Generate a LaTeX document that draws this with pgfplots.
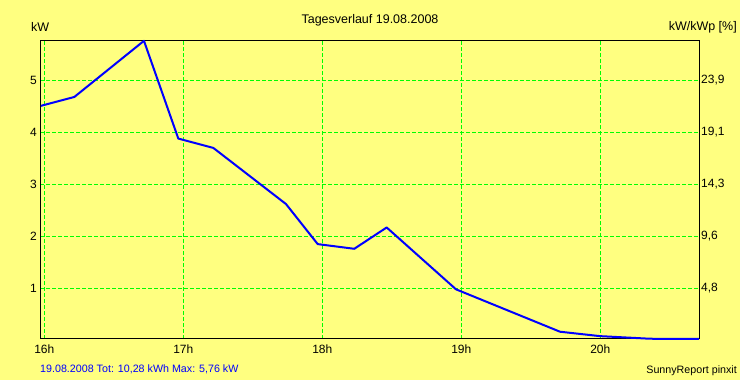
\documentclass[border=0pt]{standalone}
\usepackage{fontspec}
\setmainfont{Liberation Sans}
\usepackage{pgfplots}
\pgfplotsset{compat=1.18}
\definecolor{bg}{RGB}{255,255,128}
\definecolor{gridgreen}{RGB}{0,255,0}
\definecolor{lineblue}{RGB}{0,0,255}
\begin{document}
\begin{tikzpicture}[x=1pt,y=1pt]
\fill[bg] (0,0) rectangle (740,380);
\useasboundingbox (0,0) rectangle (740,380);
\begin{axis}[
  at={(40.3pt,41pt)}, anchor=south west, scale only axis,
  width=659.4pt, height=298.7pt,
  xmin=15.9712, xmax=20.715, ymin=0.025, ymax=5.77,
  xtick={16,17,18,19,20}, xticklabels={16h,17h,18h,19h,20h},
  ytick={1,2,3,4,5}, yticklabels={1,2,3,4,5},
  grid=major,
  major grid style={gridgreen, line width=1pt, dash pattern=on 4pt off 2pt},
  major tick length=0pt,
  axis line style={black, line width=1pt},
  tick label style={font=\fontsize{12}{14}\selectfont},
  xticklabel style={yshift=-2pt},
  yticklabel style={xshift=0pt},
  /pgf/number format/assume math mode=true,
  clip=false,
]
\addplot[lineblue, line width=2pt, line join=round] coordinates {
  (15.976,4.51) (16.216,4.68) (16.717,5.76) (16.964,3.88) (17.216,3.70)
  (17.739,2.62) (17.967,1.85) (18.230,1.76) (18.463,2.17) (18.962,0.98)
  (19.710,0.165) (19.998,0.08) (20.357,0.03) (20.71,0.025)
};
\end{axis}
\begin{axis}[
  at={(40.3pt,41pt)}, anchor=south west, scale only axis,
  width=659.4pt, height=298.7pt,
  xmin=15.9712, xmax=20.715, ymin=0.025, ymax=5.77,
  axis x line=none, axis y line*=right,
  ytick={1,2,3,4,5}, yticklabels={{4,8},{9,6},{14,3},{19,1},{23,9}},
  major tick length=0pt,
  axis line style={black, line width=1pt},
  tick label style={font=\fontsize{12}{14}\selectfont},
  yticklabel style={xshift=-2pt},
  /pgf/number format/assume math mode=true,
]
\addplot[draw=none] coordinates {(16,1)};
\end{axis}
\node[font=\fontsize{12.5}{14}\selectfont] at (370,359.3) {Tagesverlauf 19.08.2008};
\node[anchor=west, inner sep=0pt, font=\fontsize{12.5}{14}\selectfont] at (31,353) {kW};
\node[anchor=east, inner sep=0pt, font=\fontsize{12.5}{14}\selectfont] at (737,353) {kW/kWp [\%]};
\node[anchor=west, inner sep=0pt, text=lineblue, font=\fontsize{10.7}{13}\selectfont] at (40,11) {19.08.2008 Tot: 10,28 kWh Max: 5,76 kW};
\node[anchor=east, inner sep=0pt, font=\fontsize{10.7}{13}\selectfont] at (737,9) {SunnyReport pinxit};
\end{tikzpicture}
\end{document}
